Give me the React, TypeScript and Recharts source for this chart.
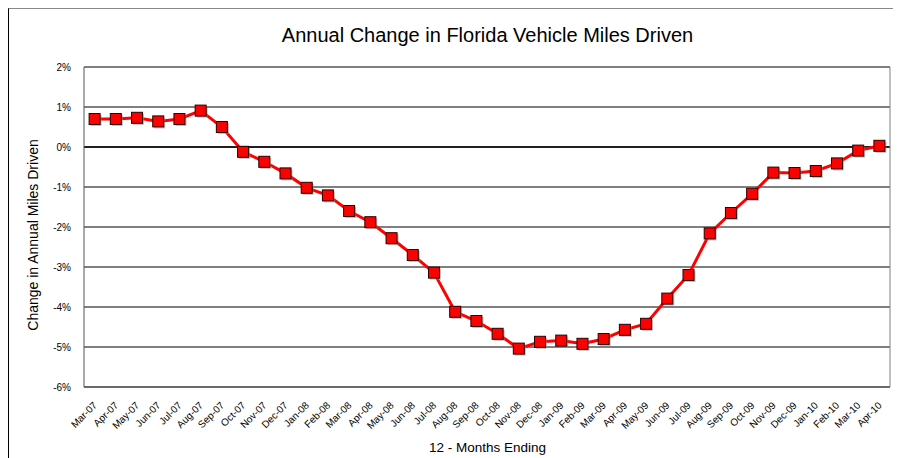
import React from 'react';
import { LineChart, Line, XAxis, YAxis, CartesianGrid, ReferenceLine } from 'recharts';

const months = [
  'Mar-07','Apr-07','May-07','Jun-07','Jul-07','Aug-07','Sep-07','Oct-07','Nov-07','Dec-07',
  'Jan-08','Feb-08','Mar-08','Apr-08','May-08','Jun-08','Jul-08','Aug-08','Sep-08','Oct-08','Nov-08','Dec-08',
  'Jan-09','Feb-09','Mar-09','Apr-09','May-09','Jun-09','Jul-09','Aug-09','Sep-09','Oct-09','Nov-09','Dec-09',
  'Jan-10','Feb-10','Mar-10','Apr-10',
];

const changePct = [
  0.70, 0.70, 0.73, 0.64, 0.70, 0.91, 0.50, -0.12, -0.37, -0.66,
  -1.02, -1.21, -1.60, -1.88, -2.28, -2.70, -3.14, -4.12, -4.35, -4.67, -5.04, -4.87,
  -4.84, -4.92, -4.80, -4.57, -4.42, -3.79, -3.20, -2.16, -1.65, -1.17, -0.64, -0.65,
  -0.60, -0.41, -0.09, 0.03,
];

const yTicks = [2, 1, 0, -1, -2, -3, -4, -5, -6];

const data = months.map((m, i) => ({ month: m, value: changePct[i] }));

const FONT = '"Liberation Sans", Arial, sans-serif';

const SquareDot = (props: any) => {
  const { cx, cy, index } = props;
  if (cx == null || cy == null) return null;
  const s = 11;
  return (
    <g key={`dot-${index}`}>
      <rect x={cx - s / 2 + 1.5} y={cy - s / 2 + 1.5} width={s} height={s} fill="#8c8c8c" opacity={0.55} />
      <rect x={cx - s / 2} y={cy - s / 2} width={s} height={s} fill="#FF0000" stroke="#2a0000" strokeWidth={1} />
    </g>
  );
};

const XTick = (props: any) => {
  const { x, y, payload } = props;
  return (
    <g transform={`translate(${x + 3},${y + 11})`}>
      <text x={0} y={0} textAnchor="end" transform="rotate(-45)" fontSize={10} fontFamily={FONT} fill="#000">
        {payload.value}
      </text>
    </g>
  );
};

export default function App() {
  return (
    <div style={{ position: 'relative', width: 893, height: 450, borderTop: '1px solid #888', borderLeft: '1px solid #000', boxSizing: 'border-box', fontFamily: FONT }}>
      <div style={{ position: 'absolute', left: 0, top: 0, width: 893, height: 450 }}>
        <LineChart width={893} height={450} data={data} margin={{ top: 58, right: 11, left: 0, bottom: 0 }}>
          <CartesianGrid horizontal={true} vertical={false} stroke="#000" strokeWidth={1} />
          <XAxis
            dataKey="month"
            interval={0}
            tick={<XTick />}
            tickLine={false}
            axisLine={{ stroke: '#555' }}
            padding={{ left: 10.6, right: 10.6 }}
            height={72}
          />
          <YAxis
            domain={[-6, 2]}
            ticks={yTicks}
            tickFormatter={(v: number) => `${v}%`}
            tick={{ fontSize: 10, fill: '#000', fontFamily: FONT }}
            tickLine={false}
            tickSize={0}
            tickMargin={13}
            axisLine={{ stroke: '#555' }}
            width={75}
          />
          <YAxis yAxisId="right" orientation="right" domain={[-6, 2]} tick={false} tickLine={false} axisLine={{ stroke: '#808080' }} width={1} />
          <ReferenceLine y={0} stroke="#000" strokeWidth={1.5} />
          <Line
            type="linear"
            dataKey="value"
            stroke="#FF0000"
            strokeWidth={3}
            dot={SquareDot}
            activeDot={false}
            isAnimationActive={false}
          />
        </LineChart>
      </div>
      <div style={{ position: 'absolute', left: 0, width: 957, top: 15, textAlign: 'center', fontSize: 20, color: '#000' }}>
        Annual Change in Florida Vehicle Miles Driven
      </div>
      <div style={{ position: 'absolute', left: 0, width: 957, top: 431, textAlign: 'center', fontSize: 13.5, color: '#000' }}>
        12 - Months Ending
      </div>
      <div style={{ position: 'absolute', left: 25 - 150, top: 226 - 9, width: 300, textAlign: 'center', fontSize: 14, color: '#000', transform: 'rotate(-90deg)', transformOrigin: '150px 9px' }}>
        Change in Annual Miles Driven
      </div>
    </div>
  );
}
